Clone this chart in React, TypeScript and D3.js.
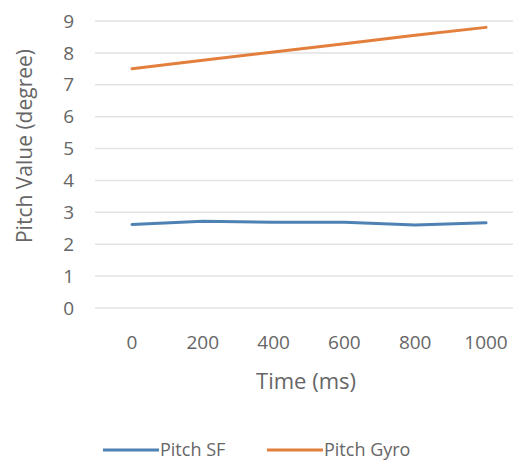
import React from "react";
import * as d3 from "d3";

const times = ["0", "200", "400", "600", "800", "1000"];
const pitchSF = [2.62, 2.72, 2.69, 2.69, 2.6, 2.67];
const pitchGyro = [7.5, 7.77, 8.03, 8.29, 8.55, 8.8];
const yTicks = [0, 1, 2, 3, 4, 5, 6, 7, 8, 9];
const seriesNames = ["Pitch SF", "Pitch Gyro"];
const seriesColors = ["#4f82b4", "#e27f3c"];

const W = 521;
const H = 463;
const FONT = "'Open Sans', 'Liberation Sans', sans-serif";
const TEXT = "#666666";

export default function App() {
  const x = d3.scalePoint<string>().domain(times).range([132, 486]);
  const y = d3.scaleLinear().domain([0, 9]).range([308, 21]);
  const line = d3
    .line<number>()
    .x((_, i) => x(times[i]) as number)
    .y((d) => y(d));
  const series = [pitchSF, pitchGyro];

  return (
    <svg
      width={W}
      height={H}
      style={{ position: "absolute", left: 0, top: 0, background: "#fff" }}
      fontFamily={FONT}
    >
      {yTicks.map((t) => (
        <g key={t}>
          <line x1={95} x2={513} y1={y(t)} y2={y(t)} stroke="#e2e2e2" strokeWidth={1.5} />
          <text x={74} y={y(t)} dy="0.35em" textAnchor="end" fontSize={19} fill={TEXT}>
            {t}
          </text>
        </g>
      ))}
      {times.map((t) => (
        <text key={t} x={x(t)} y={342} dy="0.35em" textAnchor="middle" fontSize={19} fill={TEXT}>
          {t}
        </text>
      ))}
      <text x={306} y={381} dy="0.35em" textAnchor="middle" fontSize={22} fill={TEXT}>
        Time (ms)
      </text>
      <text
        transform={`translate(25,146) rotate(-90)`}
        dy="0.35em"
        textAnchor="middle"
        fontSize={21}
        fill={TEXT}
      >
        Pitch Value (degree)
      </text>
      {series.map((s, i) => (
        <path
          key={i}
          d={line(s) || ""}
          fill="none"
          stroke={seriesColors[i]}
          strokeWidth={3}
          strokeLinecap="round"
          strokeLinejoin="round"
        />
      ))}
      {seriesNames.map((n, i) => {
        const lx = i === 0 ? 103 : 267;
        return (
          <g key={n}>
            <line x1={lx} x2={lx + 56} y1={450} y2={450} stroke={seriesColors[i]} strokeWidth={3} />
            <text x={lx + 57} y={450} dy="0.35em" fontSize={18} fill={TEXT}>
              {n}
            </text>
          </g>
        );
      })}
    </svg>
  );
}
